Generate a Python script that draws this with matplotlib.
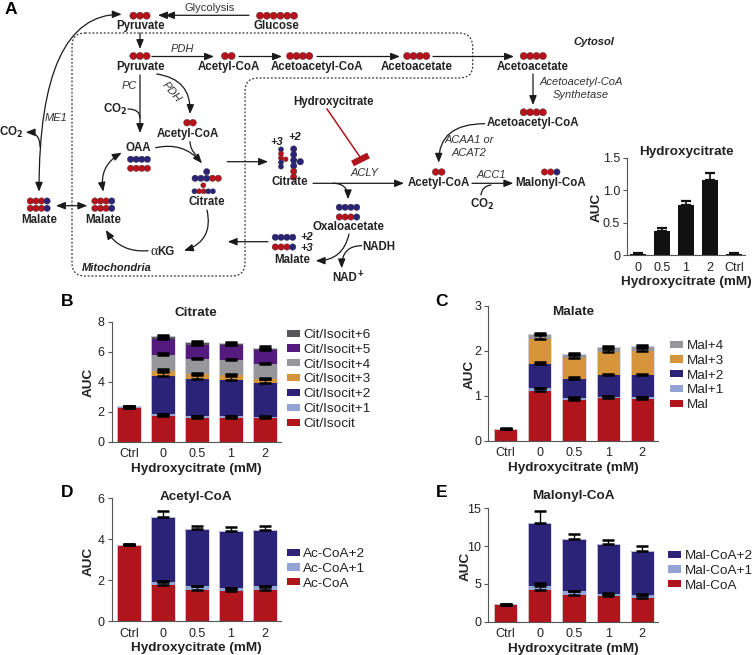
import matplotlib
matplotlib.use("Agg")
import matplotlib.pyplot as plt
from matplotlib.patches import Circle, PathPatch
from matplotlib.path import Path

plt.rcParams["font.family"] = ["Liberation Sans", "DejaVu Sans"]

W, H = 752, 655
RED = "#B0151C"
LBLUE = "#94A3D6"
NAVY = "#2A2377"
ORANGE = "#D6953A"
GREY = "#97969A"
PURPLE = "#551A7E"
DGREY = "#58585A"
BLACK = "#111111"
TXT = "#222222"

# ---- DATA ----
doses = ["Ctrl", "0", "0.5", "1", "2"]

hca_labels = ["0", "0.5", "1", "2", "Ctrl"]
hca_auc = [0.02, 0.38, 0.78, 1.15, 0.02]
hca_err = [0.02, 0.04, 0.05, 0.11, 0.02]

cit_names = ["Cit/Isocit", "Cit/Isocit+1", "Cit/Isocit+2", "Cit/Isocit+3",
             "Cit/Isocit+4", "Cit/Isocit+5", "Cit/Isocit+6"]
cit_m0 = [2.25, 1.70, 1.60, 1.60, 1.55]
cit_m1 = [0.05, 0.12, 0.12, 0.12, 0.13]
cit_m2 = [0.03, 2.56, 2.46, 2.40, 2.22]
cit_m3 = [0.00, 0.34, 0.32, 0.30, 0.30]
cit_m4 = [0.00, 1.08, 1.00, 1.00, 0.95]
cit_m5 = [0.01, 1.05, 0.95, 1.00, 0.97]
cit_m6 = [0.01, 0.20, 0.17, 0.18, 0.16]
cit_e0 = [0.02, 0.10, 0.10, 0.08, 0.10]
cit_e1 = [0.02, 0.04, 0.02, 0.02, 0.02]
cit_e2 = [0.02, 0.28, 0.25, 0.28, 0.25]
cit_e3 = [0.00, 0.12, 0.10, 0.10, 0.08]
cit_e4 = [0.00, 0.10, 0.08, 0.08, 0.08]
cit_e5 = [0.00, 0.06, 0.05, 0.04, 0.04]
cit_e6 = [0.05, 0.05, 0.08, 0.08, 0.08]

mal_names = ["Mal", "Mal+1", "Mal+2", "Mal+3", "Mal+4"]
mal_m0 = [0.26, 1.11, 0.91, 0.95, 0.93]
mal_m1 = [0.005, 0.05, 0.03, 0.03, 0.04]
mal_m2 = [0.003, 0.55, 0.44, 0.48, 0.48]
mal_m3 = [0.001, 0.55, 0.45, 0.52, 0.55]
mal_m4 = [0.001, 0.12, 0.10, 0.10, 0.10]
mal_e0 = [0.02, 0.07, 0.05, 0.05, 0.04]
mal_e1 = [0.00, 0.02, 0.01, 0.01, 0.01]
mal_e2 = [0.00, 0.03, 0.03, 0.03, 0.03]
mal_e3 = [0.00, 0.08, 0.07, 0.06, 0.06]
mal_e4 = [0.00, 0.02, 0.02, 0.02, 0.02]

ac_names = ["Ac-CoA", "Ac-CoA+1", "Ac-CoA+2"]
ac_m0 = [3.70, 1.75, 1.55, 1.47, 1.55]
ac_m1 = [0.02, 0.17, 0.15, 0.15, 0.15]
ac_m2 = [0.02, 3.18, 2.80, 2.78, 2.77]
ac_e0 = [0.05, 0.20, 0.15, 0.12, 0.12]
ac_e1 = [0.00, 0.03, 0.03, 0.02, 0.03]
ac_e2 = [0.05, 0.28, 0.17, 0.22, 0.17]

mcoa_names = ["Mal-CoA", "Mal-CoA+1", "Mal-CoA+2"]
mcoa_m0 = [2.20, 4.20, 3.50, 3.35, 3.20]
mcoa_m1 = [0.05, 0.55, 0.50, 0.30, 0.30]
mcoa_m2 = [0.05, 8.25, 6.95, 6.65, 5.90]
mcoa_e0 = [0.05, 0.90, 0.50, 0.30, 0.30]
mcoa_e1 = [0.00, 0.30, 0.10, 0.20, 0.10]
mcoa_e2 = [0.10, 1.70, 0.60, 0.50, 0.60]

# diagram: (x, y, text) in figure pixels
bold_labels = [
    (140.7, 25.7, "Pyruvate"), (276.7, 26, "Glucose"), (140.7, 67, "Pyruvate"),
    (229, 67, "Acetyl-CoA"), (316.7, 67, "Acetoacetyl-CoA"), (417, 67, "Acetoacetate"),
    (533, 67, "Acetoacetate"), (533, 123.3, "Acetoacetyl-CoA"), (438.7, 183, "Acetyl-CoA"),
    (550.7, 183, "Malonyl-CoA"), (333, 102, "Hydroxycitrate"), (290, 182.3, "Citrate"),
    (138, 148, "OAA"), (188.3, 133.7, "Acetyl-CoA"), (206.3, 202, "Citrate"),
    (103.3, 220, "Malate"), (38.7, 220, "Malate"), (348.3, 226.7, "Oxaloacetate"),
    (292, 259.7, "Malate"), (379, 247, "NADH"), (344.5, 278, "NAD"),
    (11, 132.3, "CO$\\mathbf{_2}$"), (115, 109, "CO$\\mathbf{_2}$"), (482, 204.3, "CO$\\mathbf{_2}$"),
]
italic_labels = [
    (55.7, 118.3, "ME1", 0), (129, 86, "PC", 0), (182.3, 49.3, "PDH", 0), (171.7, 91.7, "PDH", -50),
    (365, 173, "ACLY", 0), (491.7, 175.3, "ACC1", 0), (581, 81.7, "Acetoacetyl-CoA", 0),
    (581, 95.3, "Synthetase", 0), (469.3, 139.7, "ACAA1 or", 0), (469.3, 153, "ACAT2", 0),
]
bold_italic_labels = [
    (593.7, 42.3, "Cytosol"), (116.7, 267.7, "Mitochondria"), (277, 142, "+3"),
    (295, 137, "+2"), (306.7, 236.7, "+2"), (306.7, 248, "+3"),
]
panel_letters = [(11, 10, "A"), (67, 302, "B"), (442, 302, "C"), (67, 492.5, "D"), (442, 492.5, "E")]

# bead chains: centre x, y, colours, step, radius
bead_rows = [
    (140, 15.7, "rrr", 6.6, 3.6), (277, 15.7, "rrrrrr", 6.8, 3.6), (140, 56, "rrr", 6.6, 3.6),
    (228.3, 56, "rr", 6.6, 3.6), (299.7, 56, "rrrr", 6.4, 3.6), (416.7, 56, "rrrr", 6.4, 3.6),
    (533.3, 56, "rrrr", 6.4, 3.6), (533.3, 112.3, "rrrr", 6.4, 3.6), (438.7, 172, "rr", 6.0, 3.4),
    (550.7, 172, "rrb", 6.2, 3.2), (139, 159.3, "bbbb", 5.6, 3.2), (139, 168.3, "rrrr", 5.6, 3.2),
    (190, 122.7, "rr", 6.0, 3.4), (206.7, 178.3, "bbbrr", 5.8, 3.2), (203.7, 191.3, "brrbb", 4.6, 2.6),
    (103.3, 201, "rrrb", 5.6, 3.2), (103.3, 208.3, "rrrb", 5.6, 3.2), (38.7, 201, "rrrb", 5.6, 3.2),
    (38.7, 208.3, "rrrb", 5.6, 3.2), (348, 207.3, "bbbb", 5.8, 3.2), (348, 217, "rrrb", 5.8, 3.2),
    (284, 237.3, "bbbb", 5.8, 3.2), (284, 247, "rrrb", 5.8, 3.2), (206.7, 171.7, "b", 0, 3.2),
    (203.3, 185.3, "r", 0, 2.6), (285.7, 159.3, "r", 0, 2.4), (300.3, 161.7, "b", 0, 3.3),
]
bead_cols = [(281, 158, "brrbb", 4.3, 2.6), (293.7, 163, "bbbbrr", 5.6, 3.2)]

# arrows: start, end, connection, style
arrows = [
    ((249, 15.3), (165, 15.3), "arc3", "-|>"), ((165, 15.3), (158, 15.3), "arc3", "-|>"),
    ((140, 33), (140, 49), "arc3", "-|>"), ((152, 56.5), (214, 56.5), "arc3", "-|>"),
    ((239, 56.5), (282, 56.5), "arc3", "-|>"), ((317, 56.5), (400, 56.5), "arc3", "-|>"),
    ((433, 56.5), (514, 56.5), "arc3", "-|>"), ((533, 74), (533, 105), "arc3", "-|>"),
    ((484.7, 123.7), (438.7, 162.7), "angle3,angleA=180,angleB=90", "-|>"),
    ((313, 183.3), (404, 183.3), "arc3", "-|>"), ((472, 183.3), (513.3, 183.3), "arc3", "-|>"),
    ((481, 195), (491, 185), "arc3,rad=-0.4", "-"),
    ((333, 183.3), (348, 199.3), "angle3,angleA=0,angleB=90", "-|>"),
    ((227.3, 161.7), (268, 161.7), "arc3", "-|>"), ((140, 75), (140, 133), "arc3", "-|>"),
    ((128, 109), (140, 118), "angle3,angleA=0,angleB=90", "-"),
    ((156.7, 74), (190, 114), "arc3,rad=-0.45", "-|>"), ((155.7, 147.7), (202, 163.3), "arc3,rad=-0.3", "-|>"),
    ((190, 141.7), (196, 155), "arc3,rad=0.2", "-"), ((207, 210), (184, 250.7), "arc3,rad=-0.45", "-|>"),
    ((148, 250.7), (105.7, 230), "arc3,rad=-0.3", "-|>"), ((103.3, 191.7), (121.7, 152.7), "arc3,rad=-0.35", "<|-|>"),
    ((56, 205.7), (87.3, 205.7), "arc3", "<|-|>"),
    ((121.7, 14.3), (39, 191.7), "angle3,angleA=0,angleB=90", "<|-|>"),
    ((40, 146.7), (25.7, 132.3), "angle3,angleA=90,angleB=0", "-|>"),
    ((268, 241.7), (227.7, 241.7), "arc3", "-|>"),
    ((349, 234), (315.7, 260.7), "arc3,rad=-0.4", "-|>"),
    ((361.7, 245.7), (341.7, 268.3), "angle3,angleA=180,angleB=90", "-|>"),
]


def axes_px(x0, y_top, x1, y_bottom):
    return fig.add_axes([x0 / W, 1 - y_bottom / H, (x1 - x0) / W, (y_bottom - y_top) / H])


def style_axes(ax, ylim, yticks, title, title_y, auc_x):
    ax.set_ylim(*ylim)
    ax.set_yticks(yticks)
    ax.set_yticklabels([str(t) for t in yticks])
    ax.spines["top"].set_visible(False)
    ax.spines["right"].set_visible(False)
    ax.spines["left"].set_color("#555555")
    ax.spines["bottom"].set_color("#555555")
    ax.tick_params(axis="y", length=3, width=0.8, color="#555555", labelsize=9, labelcolor=TXT, pad=2)
    ax.tick_params(axis="x", length=0, labelsize=9, labelcolor=TXT, pad=4.5)
    ax.set_ylabel("AUC", fontsize=9.7, fontweight="bold", color=TXT)
    box = ax.get_position()
    ax.yaxis.set_label_coords((auc_x + 9 - box.x0 * W) / (box.width * W), 0.49)
    ax.set_xlabel("Hydroxycitrate (mM)", fontsize=9.7, fontweight="bold", color=TXT, labelpad=2)
    ax.set_title(title, fontsize=9.7, fontweight="bold", color=TXT, y=title_y, pad=0)


def stacked(ax, names, series, errors, colors, legend_xy):
    xs = list(range(len(doses)))
    bottom = [0.0] * len(doses)
    for vals, errs, col, name in zip(series, errors, colors, names):
        ax.bar(xs, vals, 0.68, bottom=bottom, color=col, linewidth=0, label=name, zorder=2)
        bottom = [b + v for b, v in zip(bottom, vals)]
        ax.errorbar(xs, bottom, yerr=[[0] * len(errs), errs], fmt="none", ecolor="black",
                    elinewidth=1, capsize=4, capthick=1.8, zorder=3, clip_on=False)
    # pale halo round each whole bar
    ax.bar(xs, bottom, 0.68, fill=False, edgecolor="#d8d8e4", linewidth=0.6, zorder=2.5)
    ax.set_xlim(-0.508, 4.46)
    ax.set_xticks(xs)
    ax.set_xticklabels(doses)
    h, l = ax.get_legend_handles_labels()
    fig.legend(h[::-1], l[::-1], loc="upper left", bbox_to_anchor=(legend_xy[0] / W, 1 - legend_xy[1] / H),
               frameon=False, fontsize=9.7, labelcolor=TXT, handlelength=0.97, handleheight=0.45,
               handletextpad=0.25, labelspacing=0.21, borderpad=0, borderaxespad=0)


fig = plt.figure(figsize=(W / 100, H / 100), dpi=100)

# ---- DIAGRAM ----
dg = fig.add_axes([0, 0, 1, 1])
dg.set_xlim(0, W)
dg.set_ylim(H, 0)
dg.axis("off")

# mitochondria outline
verts = [(85, 33), (459, 33), (472.7, 33), (472.7, 47), (472.7, 66), (472.7, 78), (459, 78),
         (258, 78), (245, 78), (245, 91), (245, 263), (245, 276), (232, 276),
         (85, 276), (72, 276), (72, 263), (72, 46), (72, 33), (85, 33)]
codes = [Path.MOVETO, Path.LINETO, Path.CURVE3, Path.CURVE3, Path.LINETO, Path.CURVE3, Path.CURVE3,
         Path.LINETO, Path.CURVE3, Path.CURVE3, Path.LINETO, Path.CURVE3, Path.CURVE3,
         Path.LINETO, Path.CURVE3, Path.CURVE3, Path.LINETO, Path.CURVE3, Path.CURVE3]
dg.add_patch(PathPatch(Path(verts, codes), fill=False, ec="#333333", lw=0.9, ls=(0, (1.5, 1.5)), zorder=1))

for start, end, conn, style in arrows:
    dg.annotate("", xy=end, xytext=start,
                arrowprops=dict(arrowstyle=style + (",head_length=0.55,head_width=0.22" if ">" in style else ""),
                                connectionstyle=conn, color="#1a1a1a", lw=0.9,
                                mutation_scale=10, shrinkA=0, shrinkB=0), zorder=2)

# hydroxycitrate inhibition
dg.plot([327, 360], [109, 157], color=RED, lw=1.1, zorder=2)
dg.plot([352.5, 368.5], [163.5, 155.5], color=RED, lw=4.5, solid_capstyle="butt", zorder=2)

BEAD = {"r": "#B8121B", "b": "#2A2377"}


def bead(x, y, c, r):
    dg.add_patch(Circle((x, y), r, fc=BEAD[c], ec="#333333", lw=0.25, zorder=3))


for x, y, cols, step, r in bead_rows:
    x0 = x - step * (len(cols) - 1) / 2
    for i, c in enumerate(cols):
        bead(x0 + i * step, y, c, r)
for x, y, cols, step, r in bead_cols:
    y0 = y - step * (len(cols) - 1) / 2
    for i, c in enumerate(cols):
        bead(x, y0 + i * step, c, r)

for x, y, s in bold_labels:
    dg.text(x, y, s, ha="center", va="center", fontsize=8.3, fontweight="bold", color=TXT, zorder=4,
            math_fontfamily="dejavusans")
for x, y, s, rot in italic_labels:
    dg.text(x, y, s, ha="center", va="center", fontsize=8, style="italic", color="#333333", rotation=rot, zorder=4)
for x, y, s in bold_italic_labels:
    dg.text(x, y, s, ha="center", va="center", fontsize=8, style="italic", fontweight="bold", color=TXT, zorder=4)
for x, y, s in panel_letters:
    dg.text(x, y, s, ha="center", va="center", fontsize=12.5, fontweight="bold", color="black", zorder=4)
dg.text(360.7, 274, "+", ha="center", va="center", fontsize=7, fontweight="bold", color=TXT, zorder=4)
dg.text(210, 8, "Glycolysis", ha="center", va="center", fontsize=8, color="#333333")
dg.text(154, 251.7, "α", ha="center", va="center", fontsize=10, family="Liberation Serif", color=TXT)
dg.text(166, 251.7, "KG", ha="center", va="center", fontsize=8.3, fontweight="bold", color=TXT)

# ---- INSET A ----
ax_a = axes_px(627, 157.7, 745.3, 255.3)
ax_a.bar(range(5), hca_auc, 0.67, color=BLACK, zorder=2)
ax_a.errorbar(range(5), hca_auc, yerr=[[0] * 5, hca_err], fmt="none", ecolor=BLACK,
              elinewidth=1.2, capsize=3.5, capthick=1.6, zorder=3)
ax_a.set_xlim(-0.47, 4.48)
ax_a.set_xticks(range(5))
ax_a.set_xticklabels(hca_labels)
style_axes(ax_a, (0, 1.5), [0, 0.5, 1.0, 1.5], "Hydroxycitrate", 1.025, 594)
ax_a.set_yticklabels(["0", "0.5", "1.0", "1.5"])

# ---- PANEL B ----
ax_b = axes_px(111.7, 321.7, 280.7, 441.7)
stacked(ax_b, cit_names, [cit_m0, cit_m1, cit_m2, cit_m3, cit_m4, cit_m5, cit_m6],
        [cit_e0, cit_e1, cit_e2, cit_e3, cit_e4, cit_e5, cit_e6],
        [RED, LBLUE, NAVY, ORANGE, GREY, PURPLE, DGREY], (287, 329))
style_axes(ax_b, (0, 8), [0, 2, 4, 6, 8], "Citrate", 1.05, 86)

# ---- PANEL C ----
ax_c = axes_px(488.3, 305.7, 658, 440.7)
stacked(ax_c, mal_names, [mal_m0, mal_m1, mal_m2, mal_m3, mal_m4],
        [mal_e0, mal_e1, mal_e2, mal_e3, mal_e4],
        [RED, LBLUE, NAVY, ORANGE, GREY], (670, 340))
style_axes(ax_c, (0, 3), [0, 1, 2, 3], "Malate", 0.93, 466.7)

# ---- PANEL D ----
ax_d = axes_px(111.7, 498.3, 280.7, 621.3)
stacked(ax_d, ac_names, [ac_m0, ac_m1, ac_m2], [ac_e0, ac_e1, ac_e2], [RED, LBLUE, NAVY], (287, 548))
style_axes(ax_d, (0, 6), [0, 2, 4, 6], "Acetyl-CoA", 0.99, 86)

# ---- PANEL E ----
ax_e = axes_px(488.3, 508.3, 658, 621.7)
stacked(ax_e, mcoa_names, [mcoa_m0, mcoa_m1, mcoa_m2], [mcoa_e0, mcoa_e1, mcoa_e2], [RED, LBLUE, NAVY], (668, 550))
style_axes(ax_e, (0, 15), [0, 5, 10, 15], "Malonyl-CoA", 1.08, 463)

fig.savefig("out.png", dpi=100)
